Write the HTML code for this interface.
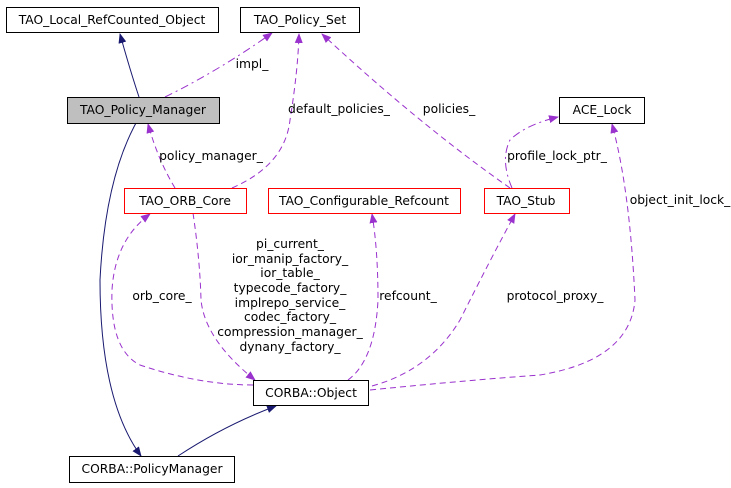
<!DOCTYPE html>
<html><head><meta charset="utf-8"><style>
html,body{margin:0;padding:0;background:#fff;width:731px;height:488px;overflow:hidden}
text{font-family:"DejaVu Sans","Liberation Sans",sans-serif;font-size:12.3px;fill:#000}
</style></head><body>
<svg width="731" height="488" viewBox="0 0 731 488" xmlns="http://www.w3.org/2000/svg">
<defs>
<marker id="an" markerWidth="10" markerHeight="10" refX="9" refY="5" orient="auto" markerUnits="userSpaceOnUse"><path d="M0,1 L10,5 L0,9 z" fill="#191970"/></marker>
<marker id="ap" markerWidth="10" markerHeight="10" refX="9" refY="5" orient="auto" markerUnits="userSpaceOnUse"><path d="M0,1 L10,5 L0,9 z" fill="#9a32cd"/></marker>
</defs>
<g fill="none" stroke="#191970" stroke-width="1">
<path d="M139,97 Q130,70 120,34" marker-end="url(#an)"/>
<path d="M136,123 Q105,180 100,280 Q100,400 141,456" marker-end="url(#an)"/>
<path d="M178,456 Q225,425 276,406" marker-end="url(#an)"/>
</g>
<g fill="none" stroke="#9a32cd" stroke-width="1" stroke-dasharray="6,4">
<path d="M165,97 Q220,70 272,33" marker-end="url(#ap)" stroke-dasharray="8,4,2,4"/>
<path d="M232,188 Q285,165 290,120 Q298,70 299,34" marker-end="url(#ap)"/>
<path d="M510,188 Q420,125 322,34" marker-end="url(#ap)"/>
<path d="M175,188 Q158,160 148,124" marker-end="url(#ap)"/>
<path d="M512,188 Q500,160 510,140 Q525,125 558,117" marker-end="url(#ap)" stroke-dasharray="8,4,2,4"/>
<path d="M370,390 Q470,380 540,375 Q630,360 635,300 Q630,190 612,124" marker-end="url(#ap)"/>
<path d="M253,385 Q200,385 140,365 Q110,350 112,290 Q115,240 150,214" marker-end="url(#ap)"/>
<path d="M193,213 Q200,260 201,300 Q205,340 255,380" marker-end="url(#ap)"/>
<path d="M348,380 Q375,360 378,300 Q378,250 372,214" marker-end="url(#ap)"/>
<path d="M372,386 Q430,370 460,320 Q490,260 515,214" marker-end="url(#ap)"/>
</g>
<g stroke-width="1">
<rect x="6.5" y="7.5" width="212" height="25" fill="#fff" stroke="#000"/>
<rect x="240.5" y="7.5" width="119" height="25" fill="#fff" stroke="#000"/>
<rect x="67.5" y="97.5" width="152" height="26" fill="#bfbfbf" stroke="#000"/>
<rect x="124.5" y="188.5" width="122" height="25" fill="#fff" stroke="#f00"/>
<rect x="268.5" y="188.5" width="192" height="25" fill="#fff" stroke="#f00"/>
<rect x="484.5" y="188.5" width="85" height="25" fill="#fff" stroke="#f00"/>
<rect x="559.5" y="97.5" width="85" height="26" fill="#fff" stroke="#000"/>
<rect x="253.5" y="380.5" width="115" height="25" fill="#fff" stroke="#000"/>
<rect x="69.5" y="456.5" width="165" height="26" fill="#fff" stroke="#000"/>
</g>
<g text-anchor="middle">
<text x="112" y="24">TAO_Local_RefCounted_Object</text>
<text x="300" y="24">TAO_Policy_Set</text>
<text x="143" y="114">TAO_Policy_Manager</text>
<text x="185" y="205">TAO_ORB_Core</text>
<text x="364" y="205">TAO_Configurable_Refcount</text>
<text x="526" y="205">TAO_Stub</text>
<text x="602" y="114">ACE_Lock</text>
<text x="311" y="397">CORBA::Object</text>
<text x="152" y="473">CORBA::PolicyManager</text>
<text x="252" y="68">impl_</text>
<text x="339" y="113">default_policies_</text>
<text x="449" y="113">policies_</text>
<text x="211" y="160">policy_manager_</text>
<text x="557" y="160">profile_lock_ptr_</text>
<text x="680" y="204">object_init_lock_</text>
<text x="162" y="300">orb_core_</text>
<text x="408" y="300">refcount_</text>
<text x="555" y="300">protocol_proxy_</text>
<text x="290" y="248">pi_current_</text>
<text x="290" y="263">ior_manip_factory_</text>
<text x="290" y="277">ior_table_</text>
<text x="290" y="292">typecode_factory_</text>
<text x="290" y="307">implrepo_service_</text>
<text x="290" y="321">codec_factory_</text>
<text x="290" y="336">compression_manager_</text>
<text x="290" y="351">dynany_factory_</text>
</g>
</svg>
</body></html>
